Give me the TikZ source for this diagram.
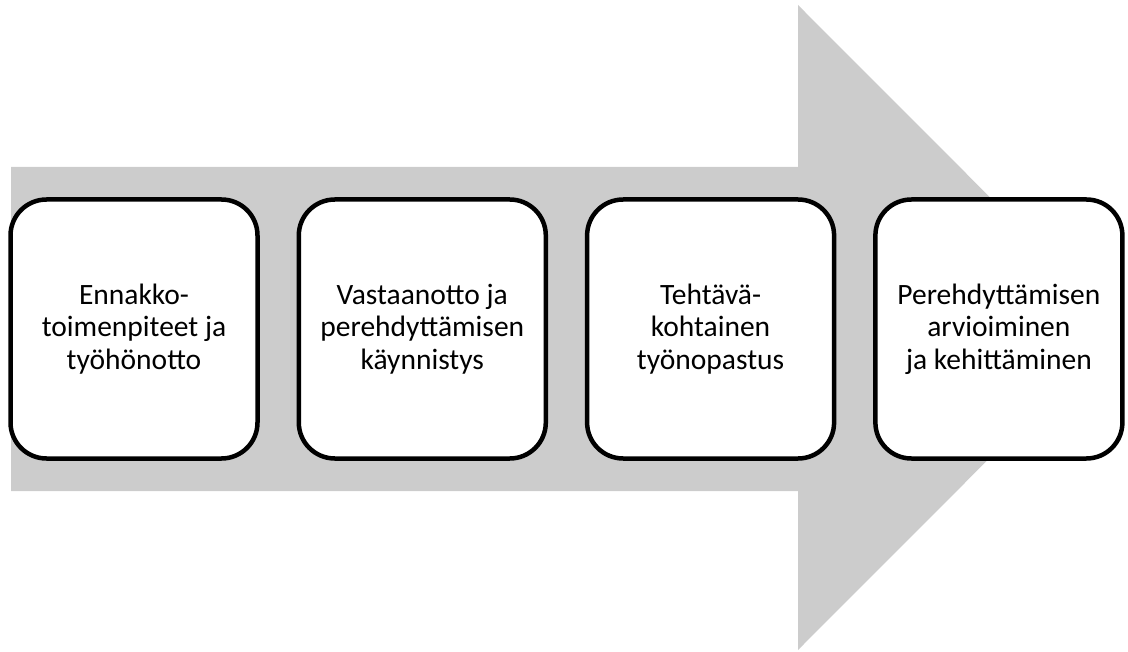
\documentclass[tikz,border=0pt]{standalone}
\usepackage{fontspec}
\setmainfont{Carlito}
\usepackage{tikz}
\usetikzlibrary{positioning}
\definecolor{arrowgray}{HTML}{CCCCCC}
\tikzset{
    phase/.style={draw=black, fill=white, line width=4.5pt, rounded corners=36pt,
        minimum width=247pt, minimum height=259pt, align=center,
        font=\fontsize{29.5pt}{32.5pt}\selectfont},
}

\begin{document}
\begin{tikzpicture}[x=1pt, y=-1pt]
            \useasboundingbox (0,0) rectangle (1128,652);
            \fill [arrowgray] (11,167) -- (798,167) -- (798,5) -- (1120,327.5)
                -- (798,650) -- (798,491) -- (11,491) -- cycle;
            \node[phase] (ennakko) at (134,329) {Ennakko-\\toimenpiteet ja\\työhönotto};
            \node[phase, right=36.8pt of ennakko] (vastaanotto) {Vastaanotto ja\\perehdyttämisen\\käynnistys};
            \node[phase, right=36.8pt of vastaanotto] (opastus) {Tehtävä-\\kohtainen\\työnopastus};
            \node[phase, right=36.8pt of opastus] (arviointi) {Perehdyttämisen\\arvioiminen\\ja kehittäminen};
        \end{tikzpicture}
\end{document}
